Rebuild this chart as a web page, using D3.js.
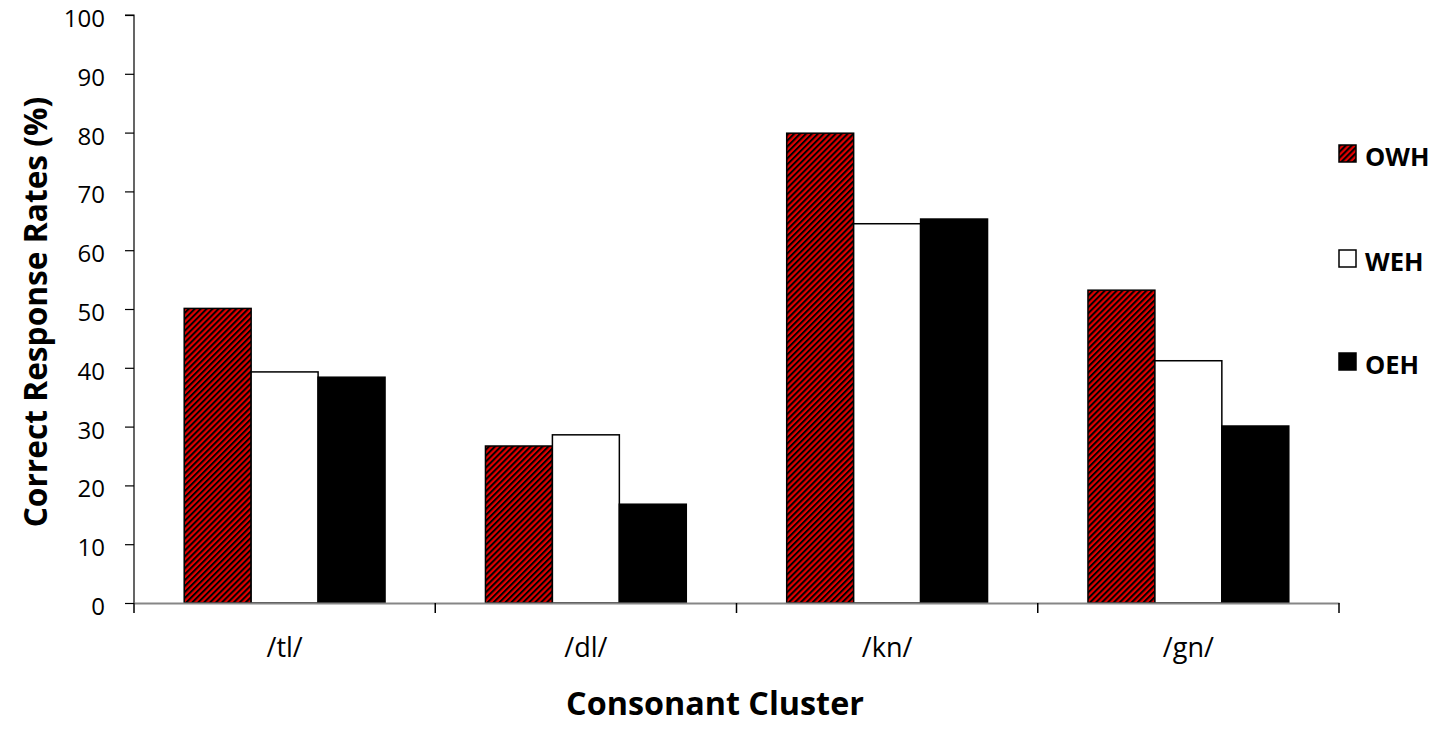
<!DOCTYPE html>
<html>
<head>
<meta charset="utf-8">
<script src="https://cdn.jsdelivr.net/npm/d3@7"></script>
<style>
  html, body { margin: 0; padding: 0; background: #fff; }
  svg { display: block; }
  text { font-family: "Open Sans", Lato, sans-serif; fill: #000; }
</style>
</head>
<body>
<svg id="chart" width="1436" height="734"></svg>
<script>
const categories = ["/tl/", "/dl/", "/kn/", "/gn/"];
const seriesNames = ["OWH", "WEH", "OEH"];
const owhValues = [50.1, 26.7, 79.9, 53.2];
const wehValues = [39.3, 28.6, 64.5, 41.2];
const oehValues = [38.4, 16.8, 65.3, 30.1];
const yTicks = [0, 10, 20, 30, 40, 50, 60, 70, 80, 90, 100];
const yTitle = "Correct Response Rates (%)";
const xTitle = "Consonant Cluster";

const seriesValues = { OWH: owhValues, WEH: wehValues, OEH: oehValues };
const rows = categories.map((c, i) => ({ cat: c, vals: seriesNames.map(s => ({ s, v: seriesValues[s][i] })) }));

const svg = d3.select("#chart");
const defs = svg.append("defs");
const pat = defs.append("pattern")
  .attr("id", "hatch").attr("patternUnits", "userSpaceOnUse")
  .attr("width", 4.2).attr("height", 4.2)
  .attr("patternTransform", "rotate(45)");
pat.append("rect").attr("width", 4.2).attr("height", 4.2).attr("fill", "#e00000");
pat.append("rect").attr("x", 0).attr("width", 2).attr("height", 4.2).attr("fill", "#000");

const fills = { OWH: "url(#hatch)", WEH: "#fff", OEH: "#000" };

const plotLeft = 134, plotRight = 1339, plotTop = 15, plotBottom = 603;

const x0 = d3.scaleBand().domain(categories).range([plotLeft, plotRight]).padding(0);
const x1 = d3.scaleBand().domain(seriesNames).range([0, x0.bandwidth()]).paddingInner(0).paddingOuter(0.75);
const y = d3.scaleLinear().domain([0, 100]).range([plotBottom, plotTop]);

// bars
const g = svg.append("g");
g.selectAll("g.grp").data(rows).join("g")
  .attr("class", "grp")
  .attr("transform", d => `translate(${x0(d.cat)},0)`)
  .selectAll("rect").data(d => d.vals).join("rect")
  .attr("x", d => x1(d.s))
  .attr("y", d => y(d.v))
  .attr("width", x1.bandwidth())
  .attr("height", d => y(0) - y(d.v))
  .attr("fill", d => fills[d.s])
  .attr("stroke", "#000")
  .attr("stroke-width", 1.5);

// y axis
const yAxis = d3.axisLeft(y).tickValues(yTicks).tickSize(9).tickPadding(20).tickFormat(d3.format("d"));
const yg = svg.append("g").attr("transform", `translate(${plotLeft},0)`).call(yAxis);
yg.select(".domain").attr("stroke", "#000").attr("stroke-width", 1.2).attr("d", `M-9,${plotTop}H0V${plotBottom}`);
yg.selectAll(".tick line").attr("stroke", "#000").attr("stroke-width", 1.2);
yg.selectAll(".tick text").attr("font-size", 24).attr("dy", "0.48em")
  .attr("font-family", "'Open Sans', sans-serif").attr("fill", "#000");

// x axis
const xAxis = d3.axisBottom(x0).tickSize(0).tickPadding(35);
const xg = svg.append("g").attr("transform", `translate(0,${plotBottom})`).call(xAxis);
xg.select(".domain").attr("stroke", "#868686").attr("stroke-width", 2);
xg.selectAll(".tick text").attr("font-size", 27).attr("font-family", "'Open Sans', sans-serif").attr("fill", "#000");
// category boundary ticks
const bounds = categories.map(c => x0(c)).concat([plotRight]);
svg.append("g").selectAll("line").data(bounds).join("line")
  .attr("x1", d => d).attr("x2", d => d)
  .attr("y1", plotBottom).attr("y2", plotBottom + 10)
  .attr("stroke", "#000").attr("stroke-width", 1.5);

// titles (font size fitted to the reference text length)
function fit(sel, target) {
  const w = sel.node().getComputedTextLength();
  const fs = parseFloat(sel.attr("font-size"));
  sel.attr("font-size", fs * target / w);
}
const yt = svg.append("text")
  .attr("transform", "translate(47,312) rotate(-90)")
  .attr("text-anchor", "middle")
  .attr("font-size", 30).attr("font-weight", "bold")
  .text(yTitle);
fit(yt, 431);
const xt = svg.append("text")
  .attr("x", 715).attr("y", 715)
  .attr("text-anchor", "middle")
  .attr("font-size", 30).attr("font-weight", "bold")
  .text(xTitle);
fit(xt, 298);

// legend
const legendTops = [145, 250, 353];
const lg = svg.append("g").selectAll("g").data(seriesNames).join("g")
  .attr("transform", (d, i) => `translate(1339,${legendTops[i]})`);
lg.append("rect").attr("width", 17).attr("height", 17)
  .attr("fill", d => fills[d]).attr("stroke", "#000").attr("stroke-width", 1.5);
lg.append("text").attr("x", 26).attr("y", 21)
  .attr("font-size", 25.5).attr("font-weight", "bold")
  .text(d => d);
</script>
</body>
</html>
